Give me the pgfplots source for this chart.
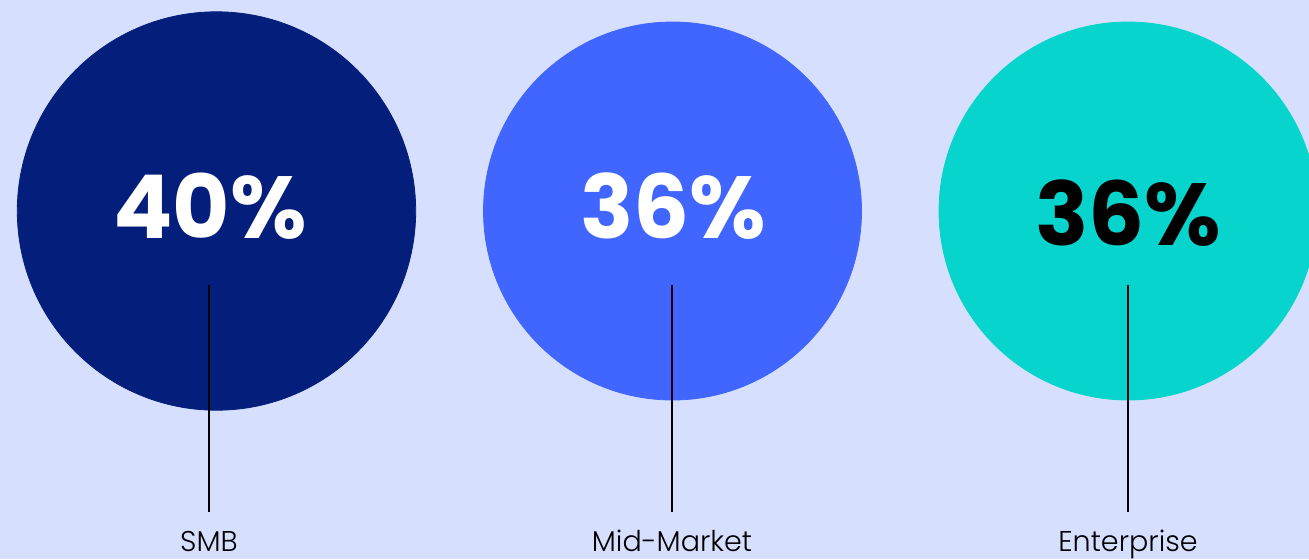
\documentclass[border=0pt]{standalone}
\usepackage{fontspec}
\setmainfont{Poppins}
\newfontfamily\plight{Poppins Light}
\usepackage{pgfplots}
\usepackage{pgfplotstable}
\pgfplotsset{compat=1.18}
\definecolor{bg}{HTML}{D6DFFD}
\definecolor{smb}{HTML}{041E7C}
\definecolor{mid}{HTML}{4066FF}
\definecolor{ent}{HTML}{07D4CC}
% x, y in pixel units; v = share (%); bubble area proportional to v
\pgfplotstableread{
x y v
216.5 211 40
}\smbdata
\pgfplotstableread{
x y v
672.5 211 36
}\middata
\pgfplotstableread{
x y v
1128 211 36
}\entdata
\pgfplotsset{frame/.style={
  at={(0,0)}, anchor=south west,
  scale only axis, width=654.5pt, height=279.5pt,
  xmin=0, xmax=1309, ymin=0, ymax=559, y dir=reverse,
  hide axis, clip=false}}
\begin{document}
\begin{tikzpicture}
\path[use as bounding box] (0,0) rectangle (654.5pt,279.5pt);
\clip (0,0) rectangle (654.5pt,279.5pt);
\fill[bg] (0,0) rectangle (654.5pt,279.5pt);
\begin{axis}[frame]
% radius = 94.5pt * sqrt(v/36)
\addplot[smb, only marks, mark=*, mark size=99.6pt, mark options={draw=smb, fill=smb}] table[x=x,y=y] {\smbdata};
\addplot[mid, only marks, mark=*, mark size=94.5pt, mark options={draw=mid, fill=mid}] table[x=x,y=y] {\middata};
\addplot[ent, only marks, mark=*, mark size=94.5pt, mark options={draw=ent, fill=ent}] table[x=x,y=y] {\entdata};
\end{axis}
\begin{axis}[frame]
\addplot[black, line width=0.75pt] coordinates {(209,285) (209,512)};
\addplot[black, line width=0.75pt] coordinates {(672,285) (672,512)};
\addplot[black, line width=0.75pt] coordinates {(1128,285) (1128,512)};
\node[text=white, font=\bfseries\fontsize{44}{44}\selectfont] at (axis cs:210,206) {40\%};
\node[text=white, font=\bfseries\fontsize{44}{44}\selectfont] at (axis cs:673,206) {36\%};
\node[text=black, font=\bfseries\fontsize{44}{44}\selectfont] at (axis cs:1128,213) {36\%};
\node[anchor=base, inner sep=0pt, font=\plight\fontsize{14.3}{14.3}\selectfont] at (axis cs:209,551) {SMB};
\node[anchor=base, inner sep=0pt, font=\plight\fontsize{14.3}{14.3}\selectfont] at (axis cs:672,551) {Mid-Market};
\node[anchor=base, inner sep=0pt, font=\plight\fontsize{14.3}{14.3}\selectfont] at (axis cs:1128,551) {Enterprise};
\end{axis}
\end{tikzpicture}
\end{document}
